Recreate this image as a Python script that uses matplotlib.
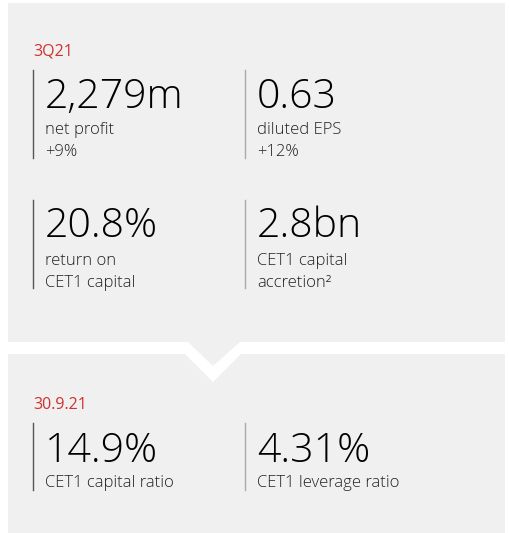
import matplotlib.pyplot as plt
from matplotlib.patches import Polygon

# period headers
periods = ["3Q21", "30.9.21"]

# headline figures, row by row (left, right)
big_values = [["2,279m", "0.63"], ["20.8%", "2.8bn"], ["14.9%", "4.31%"]]
captions = [
    [["net profit", "+9%"], ["diluted EPS", "+12%"]],
    [["return on", "CET1 capital"], ["CET1 capital", "accretion\u00b2"]],
    [["CET1 capital ratio"], ["CET1 leverage ratio"]],
]

red = "#d0312d"
panel = "#f0f0f0"
font = ["Open Sans", "DejaVu Sans"]

fig = plt.figure(figsize=(5.1, 5.33), dpi=100)
ax = fig.add_axes([0, 0, 1, 1])
ax.set_xlim(0, 510)
ax.set_ylim(533, 0)
ax.axis("off")

# top panel with tab pointing down
ax.add_patch(Polygon([(8, 3), (505, 3), (505, 342), (240, 342), (213, 366),
                      (188, 342), (8, 342)], closed=True, fc=panel, ec="none"))
# lower panel with notch
ax.add_patch(Polygon([(8, 354), (185, 354), (213, 382), (241, 354), (505, 354),
                      (505, 533), (8, 533)], closed=True, fc=panel, ec="none"))

ax.text(33, 55, periods[0], color=red, fontsize=11.5, family=font, va="baseline")
ax.text(33, 409, periods[1], color=red, fontsize=11.5, family=font, va="baseline")

rows = [
    dict(top=70, bottom=158, big=108, cap=[134, 156]),
    dict(top=200, bottom=288, big=237, cap=[265, 287]),
    dict(top=423, bottom=490, big=462, cap=[487]),
]
cols = [(33, 45, "#555555"), (245, 257, "#aaaaaa")]

for r, row in enumerate(rows):
    for c, (lx, tx, lc) in enumerate(cols):
        ax.plot([lx, lx], [row["top"], row["bottom"]], color=lc, lw=1)
        ax.text(tx, row["big"], big_values[r][c], fontsize=29.5, family=font,
                weight=300, color="#000000", va="baseline")
        for y, s in zip(row["cap"], captions[r][c]):
            ax.text(tx, y, s, fontsize=12, family=font, weight=300,
                    color="#222222", va="baseline")

fig.savefig("out.png", dpi=100)
